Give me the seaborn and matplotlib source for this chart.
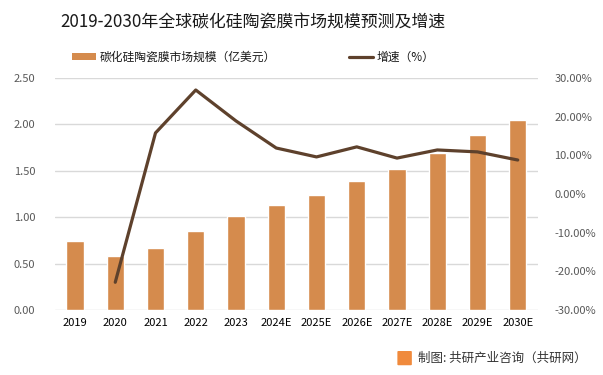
import numpy as np
import pandas as pd
import matplotlib
matplotlib.use("Agg")
import matplotlib.pyplot as plt
import seaborn as sns
from matplotlib.ticker import FuncFormatter
from matplotlib.patches import Patch
from matplotlib.lines import Line2D

years = ["2019", "2020", "2021", "2022", "2023", "2024E", "2025E",
         "2026E", "2027E", "2028E", "2029E", "2030E"]
market = [0.74, 0.58, 0.67, 0.85, 1.01, 1.13, 1.24, 1.39, 1.52, 1.69, 1.89, 2.05]
growth = [np.nan, -22.8, 15.8, 26.9, 18.9, 11.9, 9.6, 12.2, 9.3, 11.4, 10.9, 8.8]

title = "2019-2030年全球碳化硅陶瓷膜市场规模预测及增速"
bar_label = "碳化硅陶瓷膜市场规模（亿美元）"
line_label = "增速（%）"
source = "制图: 共研产业咨询（共研网）"

sns.set_theme(style="white")
plt.rcParams['font.family'] = ['Noto Sans CJK SC', 'DejaVu Sans']

bar_color = "#D58B4D"
line_color = "#5E412C"
tick_color = "#595959"

fig = plt.figure(figsize=(6.03, 3.75), dpi=100)
ax = fig.add_axes([0.091, 0.173, 0.801, 0.619])

df = pd.DataFrame({"year": years, "market": market})
sns.barplot(data=df, x="year", y="market", color=bar_color, width=0.43,
            saturation=1, ax=ax, order=years)
ax.set_xlim(-0.5, len(years) - 0.5)
ax.set_ylim(0, 2.5)
ax.set_yticks(np.arange(0, 2.51, 0.5))
ax.yaxis.set_major_formatter(FuncFormatter(lambda v, p: f"{v:.2f}"))
ax.grid(axis="y", color="#D9D9D9", linewidth=1)
ax.set_axisbelow(True)
ax.set_xlabel("")
ax.set_ylabel("")
for s in ax.spines.values():
    s.set_visible(False)
ax.tick_params(axis="x", colors="black", labelsize=8, length=0, pad=6)
ax.tick_params(axis="y", colors=tick_color, labelsize=8, length=0, pad=14)

ax2 = ax.twinx()
gdf = pd.DataFrame({"pos": np.arange(len(years)), "growth": growth}).dropna()
sns.lineplot(data=gdf, x="pos", y="growth", color=line_color, linewidth=2.3,
             ax=ax2, legend=False)
ax2.set_ylim(-30, 30)
ax2.set_yticks(np.arange(-30, 31, 10))
ax2.yaxis.set_major_formatter(FuncFormatter(lambda v, p: f"{v:.2f}%"))
ax2.set_xlim(-0.5, len(years) - 0.5)
ax2.set_xlabel("")
ax2.set_ylabel("")
for s in ax2.spines.values():
    s.set_visible(False)
ax2.tick_params(axis="y", colors=tick_color, labelsize=8, length=0, pad=12)
ax2.grid(False)

fig.text(0.42, 0.94, title, ha="center", va="center", fontsize=12.2, color="#1a1a1a")

handles = [Patch(facecolor=bar_color, edgecolor="none"),
           Line2D([0], [0], color=line_color, linewidth=2.3)]
fig.legend(handles, [bar_label, line_label], loc="center", ncol=2,
           bbox_to_anchor=(0.42, 0.848), frameon=False, fontsize=8.5,
           columnspacing=6.2, handlelength=2.0, handleheight=0.6,
           handletextpad=0.3, labelcolor="#1a1a1a")

fig.text(0.693, 0.045, source, ha="left", va="center", fontsize=9, color="#333333")
fig.patches.append(matplotlib.patches.FancyBboxPatch(
    (0.661, 0.028), 0.02, 0.034, boxstyle="round,pad=0.002",
    transform=fig.transFigure, facecolor="#F08A3C", edgecolor="none"))

fig.savefig("out.png", dpi=100)
